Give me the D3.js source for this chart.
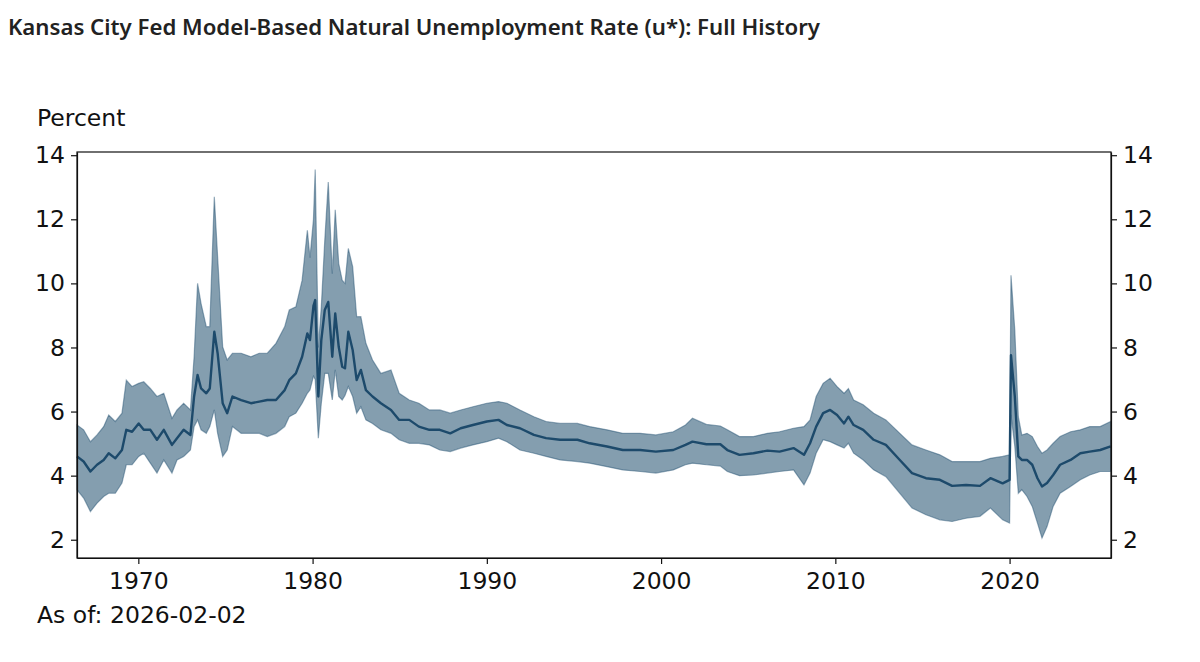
<!DOCTYPE html>
<html>
<head>
<meta charset="utf-8">
<script src="https://cdn.jsdelivr.net/npm/d3@7"></script>
<style>
  body { margin: 0; background: #fff; }
  .axis text { font-family: "DejaVu Sans", sans-serif; font-size: 23.5px; fill: #111; }
  .axis path, .axis line { stroke: #111; stroke-width: 1.2; }
</style>
</head>
<body>
<div id="chart"></div>
<script>
// decimal years, model mean and the band around it (percent)
var years = [1966.48, 1966.86, 1967.25, 1967.63, 1968.01, 1968.3, 1968.68, 1969.06, 1969.31, 1969.64,
	1970.02, 1970.31, 1970.69, 1971.07, 1971.46, 1971.93, 1972.22, 1972.6, 1972.99,
	1973.2, 1973.4, 1973.6, 1973.9, 1974.1, 1974.36, 1974.55, 1974.84, 1975.1, 1975.4,
	1975.9, 1976.46, 1976.94, 1977.4, 1977.9, 1978.4, 1978.66, 1979.04, 1979.4, 1979.7,
	1979.85, 1980.05, 1980.15, 1980.33, 1980.5, 1980.7, 1980.9, 1981.13, 1981.3, 1981.5,
	1981.7, 1981.86, 1982.05, 1982.3, 1982.53, 1982.77, 1983.06, 1983.44, 1983.92, 1984.5,
	1984.97, 1985.55, 1986.1, 1986.7, 1987.3, 1987.9, 1988.5, 1989.2, 1990.0, 1990.67,
	1991.15, 1991.9, 1992.7, 1993.4, 1994.2, 1995.2, 1995.9, 1996.9, 1997.8, 1998.8,
	1999.7, 2000.7, 2001.4, 2001.8, 2002.6, 2003.4, 2003.8, 2004.5, 2005.3, 2006.1,
	2006.8, 2007.6, 2008.2, 2008.55, 2008.9, 2009.3, 2009.7, 2010.1, 2010.5, 2010.75,
	2011.05, 2011.6, 2012.2, 2012.9, 2013.7, 2014.4, 2015.2, 2016.0, 2016.7, 2017.5,
	2018.3, 2018.9, 2019.6, 2020.0, 2020.08, 2020.3, 2020.5, 2020.7, 2021.0, 2021.3,
	2021.6, 2021.86, 2022.15, 2022.5, 2022.9, 2023.5, 2024.06, 2024.6, 2025.2, 2025.8];

var meanRate = [4.60, 4.44, 4.13, 4.34, 4.49, 4.70, 4.54, 4.80, 5.43, 5.37,
	5.63, 5.43, 5.43, 5.12, 5.43, 4.96, 5.17, 5.43, 5.27,
	6.47, 7.14, 6.72, 6.57, 6.72, 8.49, 7.82, 6.26, 5.95, 6.47,
	6.36, 6.26, 6.31, 6.36, 6.36, 6.67, 6.98, 7.19, 7.71, 8.44,
	8.23, 9.3, 9.48, 6.47, 8.23, 9.17, 9.42, 7.71, 9.06, 8.02,
	7.40, 7.35, 8.49, 7.92, 6.98, 7.30, 6.67, 6.47, 6.26, 6.05,
	5.74, 5.74, 5.53, 5.43, 5.43, 5.32, 5.48, 5.58, 5.69, 5.74,
	5.58, 5.48, 5.27, 5.17, 5.12, 5.12, 5.01, 4.91, 4.80, 4.80,
	4.75, 4.80, 4.96, 5.06, 4.98, 4.98, 4.80, 4.65, 4.70, 4.78,
	4.75, 4.86, 4.65, 5.01, 5.53, 5.95, 6.05, 5.89, 5.63, 5.84,
	5.58, 5.43, 5.12, 4.96, 4.49, 4.08, 3.92, 3.87, 3.68, 3.71,
	3.68, 3.92, 3.76, 3.87, 7.76, 6.47, 4.60, 4.49, 4.49, 4.34,
	3.92, 3.66, 3.77, 4.02, 4.34, 4.49, 4.70, 4.75, 4.80, 4.91];

var upperBand = [5.58, 5.43, 5.06, 5.27, 5.53, 5.89, 5.69, 5.95, 6.98, 6.78,
	6.88, 6.93, 6.72, 6.47, 6.57, 5.79, 6.05, 6.26, 6.05,
	7.71, 10.0, 9.37, 8.65, 8.65, 12.7, 10.83, 8.02, 7.61, 7.82,
	7.82, 7.71, 7.82, 7.82, 8.13, 8.65, 9.17, 9.27, 10.1, 11.66,
	10.8, 12.0, 13.55, 8.0, 9.27, 11.35, 13.16, 10.3, 12.3, 10.62,
	10.1, 10.0, 11.09, 10.52, 8.96, 8.96, 8.13, 7.61, 7.19, 7.30,
	6.57, 6.36, 6.26, 6.05, 6.05, 5.95, 6.05, 6.15, 6.26, 6.31,
	6.26, 6.05, 5.84, 5.69, 5.63, 5.63, 5.53, 5.43, 5.32, 5.32,
	5.27, 5.37, 5.58, 5.79, 5.60, 5.55, 5.43, 5.22, 5.22, 5.32,
	5.37, 5.48, 5.53, 5.74, 6.47, 6.88, 7.04, 6.78, 6.57, 6.72,
	6.36, 6.21, 5.95, 5.74, 5.32, 4.96, 4.80, 4.65, 4.44, 4.44,
	4.44, 4.54, 4.60, 4.65, 10.25, 8.54, 5.84, 5.27, 5.32, 5.22,
	4.91, 4.70, 4.80, 5.01, 5.22, 5.37, 5.43, 5.53, 5.53, 5.69];

var lowerBand = [3.56, 3.30, 2.88, 3.14, 3.35, 3.45, 3.45, 3.77, 4.34, 4.34,
	4.60, 4.70, 4.39, 4.08, 4.49, 4.08, 4.49, 4.60, 4.80,
	5.53, 5.74, 5.43, 5.32, 5.53, 6.05, 5.32, 4.60, 4.80, 5.53,
	5.32, 5.32, 5.32, 5.22, 5.32, 5.53, 5.84, 5.95, 6.26, 6.57,
	6.67, 7.1, 7.0, 5.17, 6.26, 7.19, 7.19, 6.36, 7.30, 6.47,
	6.36, 6.5, 6.78, 6.47, 5.95, 6.15, 5.74, 5.63, 5.43, 5.32,
	5.12, 5.01, 5.01, 4.96, 4.80, 4.75, 4.86, 4.96, 5.06, 5.17,
	5.06, 4.80, 4.70, 4.60, 4.49, 4.44, 4.39, 4.28, 4.18, 4.13,
	4.08, 4.18, 4.34, 4.39, 4.34, 4.30, 4.13, 4.00, 4.02, 4.08,
	4.13, 4.18, 3.71, 4.08, 4.70, 5.12, 5.06, 4.96, 4.86, 5.01,
	4.70, 4.49, 4.18, 3.97, 3.45, 2.99, 2.78, 2.62, 2.57, 2.67,
	2.73, 2.99, 2.62, 2.52, 5.9, 4.91, 3.45, 3.56, 3.35, 3.04,
	2.52, 2.05, 2.41, 3.04, 3.45, 3.66, 3.87, 4.02, 4.13, 4.13];

var yTicks = [2, 4, 6, 8, 10, 12, 14];
var xTicks = [1970, 1980, 1990, 2000, 2010, 2020];

var data = [];
for (var i = 0; i < years.length; i++) {
	data.push({year: years[i], mean: meanRate[i], hi: upperBand[i], lo: lowerBand[i]});
}

var width = 1200, height = 662;
var margin = {top: 152, right: 89, bottom: 104, left: 77};
var w = width - margin.left - margin.right,
	h = height - margin.top - margin.bottom;

var svg = d3.select("#chart").append("svg")
	.attr("width", width)
	.attr("height", height);

svg.append("text")
	.attr("x", 8)
	.attr("y", 35)
	.attr("textLength", 812)
	.attr("lengthAdjust", "spacingAndGlyphs")
	.style("font-family", "'Noto Sans', sans-serif")
	.style("font-weight", 600)
	.style("font-size", "21px")
	.style("fill", "#222")
	.text("Kansas City Fed Model-Based Natural Unemployment Rate (u*): Full History");

var g = svg.append("g")
	.attr("transform", "translate(" + margin.left + "," + margin.top + ")");

var xScale = d3.scaleLinear().domain([1966.48, 2025.82]).range([0, w]);
var yScale = d3.scaleLinear().domain([1.43, 14.1]).range([h, 0]);

// shaded band
var band = d3.area()
	.x(function(d) { return xScale(d.year); })
	.y0(function(d) { return yScale(d.lo); })
	.y1(function(d) { return yScale(d.hi); });

g.append("path")
	.datum(data)
	.attr("d", band)
	.attr("fill", "#1f4e6e")
	.attr("fill-opacity", 0.55)
	.attr("stroke", "#1f4e6e")
	.attr("stroke-opacity", 0.45)
	.attr("stroke-width", 1.2);

var line = d3.line()
	.x(function(d) { return xScale(d.year); })
	.y(function(d) { return yScale(d.mean); });

g.append("path")
	.datum(data)
	.attr("d", line)
	.attr("fill", "none")
	.attr("stroke", "#1d4a6b")
	.attr("stroke-width", 2.4)
	.attr("stroke-linejoin", "round");

// axes
g.append("g")
	.attr("class", "axis")
	.attr("transform", "translate(0," + h + ")")
	.call(d3.axisBottom(xScale).tickValues(xTicks).tickFormat(d3.format("d")).tickSize(6).tickSizeOuter(0).tickPadding(8));

g.append("g")
	.attr("class", "axis")
	.call(d3.axisLeft(yScale).tickValues(yTicks).tickSize(6).tickSizeOuter(0).tickPadding(6));

g.append("g")
	.attr("class", "axis")
	.attr("transform", "translate(" + w + ",0)")
	.call(d3.axisRight(yScale).tickValues(yTicks).tickSize(6).tickSizeOuter(0).tickPadding(6));

// frame
g.append("rect")
	.attr("width", w)
	.attr("height", h)
	.attr("fill", "none")
	.attr("stroke", "#111")
	.attr("stroke-width", 1.2);

svg.append("text")
	.attr("x", 37)
	.attr("y", 126)
	.style("font-family", "'DejaVu Sans', sans-serif")
	.style("font-size", "23.5px")
	.style("fill", "#111")
	.text("Percent");

svg.append("text")
	.attr("x", 37)
	.attr("y", 623)
	.style("font-family", "'DejaVu Sans', sans-serif")
	.style("font-size", "23.5px")
	.style("fill", "#111")
	.text("As of: 2026-02-02");
</script>
</body>
</html>
